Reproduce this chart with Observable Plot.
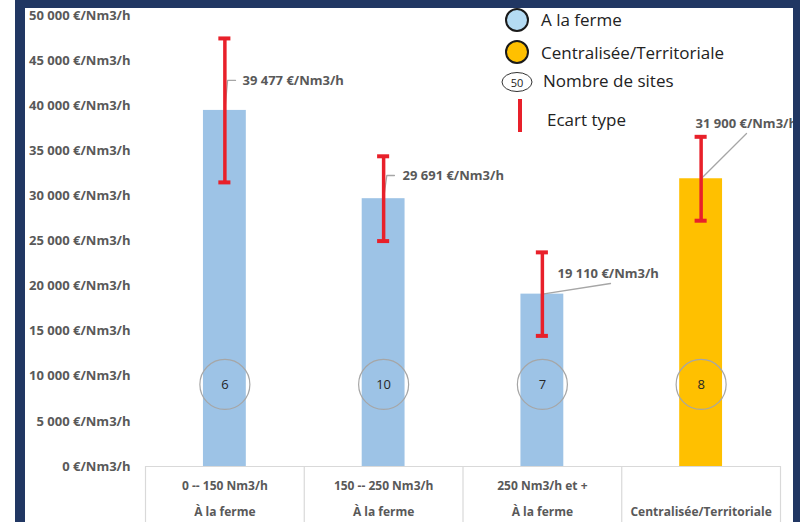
<!DOCTYPE html>
<html><head><meta charset="utf-8">
<script src="https://cdn.jsdelivr.net/npm/d3@7"></script>
<script src="https://cdn.jsdelivr.net/npm/@observablehq/plot@0.6"></script>
<style>
body{margin:0;background:#fff;}
#wrap{position:relative;width:800px;height:522px;overflow:hidden;font-family:"Open Sans",sans-serif;background:#fff;}
#wrap svg{position:absolute;left:0;top:0;}
</style></head><body><div id="wrap"></div>
<script>
// ---- data ----
const categories = ["0 -- 150 Nm3/h", "150 -- 250 Nm3/h", "250 Nm3/h et +", ""];
const types = ["À la ferme", "À la ferme", "À la ferme", "Centralisée/Territoriale"];
const groups = ["ferme", "ferme", "ferme", "centralisee"];
const values = [39477, 29691, 19110, 31900];
const stdDev = [7980, 4700, 4630, 4650];
const sites = [6, 10, 7, 8];
const valueLabels = ["39 477 €/Nm3/h", "29 691 €/Nm3/h", "19 110 €/Nm3/h", "31 900 €/Nm3/h"];
const yTicks = [0, 5000, 10000, 15000, 20000, 25000, 30000, 35000, 40000, 45000, 50000];
const legendLabels = ["A la ferme", "Centralisée/Territoriale", "Nombre de sites", "Ecart type"];
const groupColors = {ferme: "#9dc3e6", centralisee: "#ffc000"};

// ---- annotation placement (label anchors / leader lines in data space) ----
const labelAnchor = [
  {x: 0.611, y: 42800}, {x: 1.619, y: 32260}, {x: 2.595, y: 21397}, {x: 3.465, y: 38027}
];
const leaderKnees = [
  [[0.517, 42800], [0.567, 42800]],
  [[1.52, 32260], [1.568, 32260]],
  [[2.929, 20288]],
  [[3.786, 36918]]
];
const siteLevel = 9100;

const idx = d3.range(categories.length);
const rows = idx.map(i => ({
  i, c: i + 0.5, cat: categories[i], type: types[i], group: groups[i],
  value: values[i], sd: stdDev[i], sites: sites[i], label: valueLabels[i],
  lx: labelAnchor[i].x, ly: labelAnchor[i].y
}));
const leaders = rows.flatMap(r => [[r.c, r.value], ...leaderKnees[r.i]].map(([x, y]) => ({i: r.i, x, y})));

const fmt = v => d3.format(",")(v).replace(/,/g, " ") + " €/Nm3/h";
const red = "#e8202a";
const gray = "#595959";
const halfBar = 0.135, halfCap = 0.038;

const chart = Plot.plot({
  width: 800, height: 522,
  marginLeft: 145, marginRight: 20, marginTop: 15, marginBottom: 56,
  style: {fontFamily: "Open Sans, sans-serif", color: gray, background: "transparent"},
  x: {domain: [0, 4], axis: null},
  y: {domain: [0, 50000], axis: null},
  marks: [
    // table lines
    Plot.ruleY([0], {x1: 0, x2: 4, stroke: "#d9d9d9", strokeWidth: 1.2}),
    Plot.ruleX([0, 1, 2, 3, 4], {y1: 0, y2: -7000, stroke: "#d9d9d9", strokeWidth: 1.2}),
    // bars
    Plot.rectY(rows, {x1: d => d.c - halfBar, x2: d => d.c + halfBar, y1: 0, y2: "value", fill: d => groupColors[d.group]}),
    // site circles
    Plot.dot(rows, {x: "c", y: () => siteLevel, r: 25, stroke: "#a6a6a6", strokeWidth: 1.2, fill: "none"}),
    Plot.text(rows, {x: "c", y: () => siteLevel, text: d => String(d.sites), fontSize: 13, fill: "#262626"}),
    // leader lines
    Plot.line(leaders, {x: "x", y: "y", z: "i", stroke: "#a6a6a6", strokeWidth: 1.3}),
    // error bars
    Plot.ruleX(rows, {x: "c", y1: d => d.value - d.sd, y2: d => d.value + d.sd, stroke: red, strokeWidth: 3.5}),
    Plot.ruleY(rows, {y: d => d.value + d.sd, x1: d => d.c - halfCap, x2: d => d.c + halfCap, stroke: red, strokeWidth: 4}),
    Plot.ruleY(rows, {y: d => d.value - d.sd, x1: d => d.c - halfCap, x2: d => d.c + halfCap, stroke: red, strokeWidth: 4}),
    // value labels
    Plot.text(rows, {x: "lx", y: "ly", text: "label", textAnchor: "start", fontSize: 13, fontWeight: "bold", fill: gray}),
    // y axis labels
    Plot.text(yTicks, {x: 0, y: d => d, dx: -15, text: fmt, textAnchor: "end", fontSize: 13, fontWeight: "bold", fill: gray}),
    // category labels
    Plot.text(rows, {x: "c", y: 0, dy: 20, text: "cat", fontSize: 12, fontWeight: "bold", fill: gray}),
    Plot.text(rows, {x: "c", y: 0, dy: 46, text: "type", fontSize: 12, fontWeight: "bold", fill: gray})
  ]
});
const wrap = document.getElementById("wrap");
wrap.appendChild(chart);

// ---- legend + frame overlay ----
const ov = d3.select(wrap).append("svg").attr("width", 800).attr("height", 522)
  .style("font-family", "Open Sans, sans-serif");
const navy = "#213763";
ov.append("rect").attr("x", 15).attr("y", 0).attr("width", 10).attr("height", 522).attr("fill", navy);
ov.append("rect").attr("x", 15).attr("y", 0).attr("width", 785).attr("height", 8).attr("fill", navy);
ov.append("rect").attr("x", 793).attr("y", 0).attr("width", 7).attr("height", 522).attr("fill", navy);

const lg = ov.append("g");
lg.append("circle").attr("cx", 517).attr("cy", 20).attr("r", 11).attr("fill", "#b4dbf3").attr("stroke", "#1a1a1a").attr("stroke-width", 2);
lg.append("circle").attr("cx", 517).attr("cy", 52).attr("r", 11).attr("fill", groupColors.centralisee).attr("stroke", "#1a1a1a").attr("stroke-width", 2);
lg.append("ellipse").attr("cx", 517).attr("cy", 82).attr("rx", 15).attr("ry", 9.5).attr("fill", "none").attr("stroke", "#333").attr("stroke-width", 1);
lg.append("text").attr("x", 517).attr("y", 82).attr("text-anchor", "middle").attr("dominant-baseline", "central").attr("font-size", 11).attr("fill", "#222").text("50");
lg.append("line").attr("x1", 520).attr("x2", 520).attr("y1", 99).attr("y2", 132).attr("stroke", red).attr("stroke-width", 4);
const lpos = [[541, 19], [541, 52], [543, 80], [547, 119]];
legendLabels.forEach((t, k) => {
  lg.append("text").attr("x", lpos[k][0]).attr("y", lpos[k][1]).attr("dominant-baseline", "central")
    .attr("font-size", 17).attr("fill", "#222").text(t);
});
</script></body></html>
